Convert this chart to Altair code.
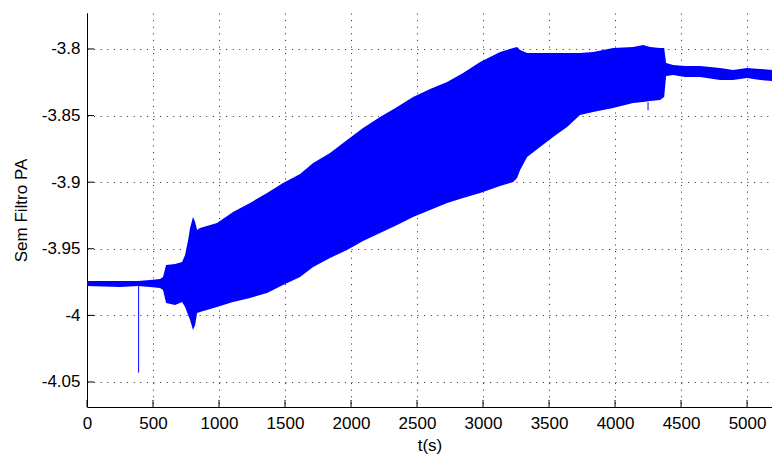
import altair as alt
import pandas as pd

# envelope of the signal (time in s, upper and lower limits)
t = [0, 250, 387, 478, 553, 576, 599, 667, 720, 743, 766, 781, 803, 819, 834, 856,
     985, 1106, 1235, 1364, 1485, 1614, 1713, 1841, 1970, 2091, 2220, 2349, 2470, 2599,
     2728, 2849, 2978, 3129, 3228, 3258, 3281, 3334, 3432, 3531, 3637, 3735, 3834, 3985,
     4137, 4213, 4266, 4341, 4372, 4387, 4440, 4531, 4644, 4796, 4894, 5000, 5099, 5189]
upper = [-3.9742, -3.9742, -3.9742, -3.9734, -3.9727, -3.9712, -3.9622, -3.9614, -3.9599, -3.9547,
         -3.9434, -3.9344, -3.9261, -3.9299, -3.9359, -3.9344, -3.9306, -3.9224, -3.9156, -3.9081,
         -3.9006, -3.8938, -3.8856, -3.8781, -3.8683, -3.8593, -3.8511, -3.8435, -3.8360, -3.8300,
         -3.8248, -3.8180, -3.8098, -3.8023, -3.7992, -3.7985, -3.8008, -3.8030, -3.8030, -3.8030,
         -3.8030, -3.8030, -3.8023, -3.7992, -3.7985, -3.7970, -3.7985, -3.7992, -3.7992, -3.8105,
         -3.8120, -3.8128, -3.8128, -3.8143, -3.8158, -3.8143, -3.8150, -3.8158]
lower = [-3.9779, -3.9787, -3.9779, -3.9787, -3.9794, -3.9809, -3.9907, -3.9922, -3.9899, -3.9937,
         -3.9997, -4.0035, -4.0110, -4.0072, -3.9982, -3.9974, -3.9937, -3.9899, -3.9869, -3.9832,
         -3.9772, -3.9712, -3.9637, -3.9569, -3.9509, -3.9441, -3.9381, -3.9321, -3.9261, -3.9209,
         -3.9156, -3.9119, -3.9081, -3.9029, -3.8998, -3.8968, -3.8908, -3.8811, -3.8736, -3.8661,
         -3.8586, -3.8495, -3.8473, -3.8443, -3.8405, -3.8398, -3.8390, -3.8383, -3.8360, -3.8203,
         -3.8195, -3.8210, -3.8210, -3.8233, -3.8233, -3.8218, -3.8233, -3.8240]

# isolated spikes
spike_t = [391, 4250]
spike_top = [-3.978, -3.840]
spike_bottom = [-4.043, -3.846]

x_ticks = [0, 500, 1000, 1500, 2000, 2500, 3000, 3500, 4000, 4500, 5000]
y_ticks = [-4.05, -4.0, -3.95, -3.9, -3.85, -3.8]

W, H = 685, 394
FONT = "Liberation Sans"

env = pd.DataFrame({"t": t, "upper": upper, "lower": lower})
spk = pd.DataFrame({"t": spike_t, "upper": spike_top, "lower": spike_bottom})
xt = pd.DataFrame({"t": x_ticks})
yt = pd.DataFrame({"upper": y_ticks})

xs = alt.Scale(domain=[0, 5189], nice=False, zero=False)
ys = alt.Scale(domain=[-4.0688, -3.773], nice=False, zero=False)

x_axis = alt.Axis(values=x_ticks, title="t(s)", grid=True, ticks=False, labelPadding=8,
                  labelFlush=False, labelExpr="toString(datum.value)", titlePadding=6)
y_axis = alt.Axis(values=y_ticks, title="Sem Filtro PA", grid=True, ticks=False,
                  labelPadding=7, titlePadding=11, labelExpr="toString(datum.value)")

X = alt.X("t:Q", scale=xs, axis=x_axis)
Y = alt.Y("upper:Q", scale=ys, axis=y_axis)

area = alt.Chart(env).mark_area(color="#0000ff", clip=True, opacity=1).encode(
    x=X, y=Y, y2="lower:Q",
)

spikes = alt.Chart(spk).mark_rule(color="#0000ff", strokeWidth=1, clip=True).encode(
    x=X, y=Y, y2="lower:Q",
)

xtick = alt.Chart(xt).mark_rule(color="#000000", strokeWidth=1).encode(
    x=X, y=alt.value(H - 7), y2=alt.value(H),
)
ytick = alt.Chart(yt).mark_rule(color="#000000", strokeWidth=1).encode(
    y=Y, x=alt.value(0), x2=alt.value(7),
)

chart = alt.layer(area, spikes, xtick, ytick).properties(
    width=W, height=H,
    padding={"left": 87, "top": 13, "right": 0, "bottom": 49},
    autosize=alt.AutoSizeParams(type="none"),
).configure_view(stroke=None).configure_axis(
    domainColor="#000000", domainWidth=1,
    gridColor="#222222", gridDash=[1, 5.6], gridWidth=1, gridOpacity=1,
    labelFont=FONT, labelFontSize=17, labelColor="#000000",
    titleFont=FONT, titleFontSize=17, titleFontWeight="normal", titleColor="#000000",
)

chart.save("out.html", embed_options={"renderer": "svg", "actions": False})
